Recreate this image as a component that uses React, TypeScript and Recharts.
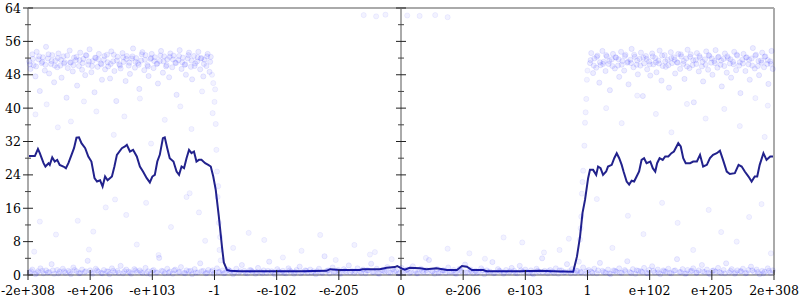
import React from "react";
import { ComposedChart, XAxis, YAxis, Line, Scatter, ReferenceLine, ReferenceDot } from "recharts";

const xTicks = [-6, -5, -4, -3, -2, -1, 0, 1, 2, 3, 4, 5, 6];
const xLabels = ["-2e+308", "-e+206", "-e+103", "-1", "-e-102", "-e-205", "0", "e-206", "e-103", "1", "e+102", "e+205", "2e+308"];
const yTicks = [0, 4, 8, 12, 16, 20, 24, 28, 32, 36, 40, 44, 48, 52, 56, 60, 64];
const yLabelTicks = [0, 8, 16, 24, 32, 40, 48, 56, 64];

const lineX = [
  -6.0, -5.89, -5.84, -5.81, -5.78, -5.75, -5.72, -5.67, -5.65, -5.61, -5.57, -5.53, -5.49, -5.43, -5.39, -5.35, -5.3, -5.26, -5.22, -5.18,
  -5.14, -5.08, -5.03, -4.98, -4.93, -4.89, -4.84, -4.8, -4.76, -4.72, -4.65, -4.61, -4.57, -4.49, -4.44, -4.41, -4.36, -4.31, -4.25, -4.2,
  -4.15, -4.09, -4.04, -4.0, -3.96, -3.92, -3.88, -3.83, -3.8, -3.76, -3.72, -3.66, -3.61, -3.57, -3.53, -3.49, -3.45, -3.41, -3.37, -3.33,
  -3.29, -3.25, -3.21, -3.15, -3.1, -3.06, -3.02, -2.98, -2.93, -2.88, -2.85, -2.8, -2.75, -2.6, -2.3, -2.0, -1.6, -1.2, -1.14, -0.98,
  -0.66, -0.62, -0.34, -0.23, -0.1, -0.06, 0.01, 0.06, 0.14, 0.31, 0.41, 0.57, 0.74, 0.9, 0.98, 1.06, 1.14, 1.32, 1.38, 1.91,
  2.24, 2.45, 2.77, 2.83, 2.88, 2.92, 2.96, 3.01, 3.04, 3.09, 3.14, 3.17, 3.21, 3.25, 3.3, 3.33, 3.39, 3.43, 3.47, 3.51,
  3.55, 3.58, 3.63, 3.67, 3.71, 3.75, 3.79, 3.83, 3.87, 3.91, 3.95, 4.01, 4.05, 4.09, 4.12, 4.16, 4.21, 4.25, 4.3, 4.35,
  4.39, 4.46, 4.5, 4.54, 4.58, 4.65, 4.7, 4.76, 4.81, 4.86, 4.92, 4.97, 5.02, 5.08, 5.13, 5.18, 5.24, 5.29, 5.37, 5.43,
  5.48, 5.53, 5.59, 5.64, 5.69, 5.73, 5.77, 5.83, 5.88, 5.94, 6.0,
];
const lineY = [
  28.5, 28.5, 30.2, 29.2, 28.0, 26.8, 26.0, 26.8, 26.4, 28.2, 27.2, 27.6, 26.4, 26.0, 25.6, 26.8, 28.8, 30.4, 32.9, 33.0,
  31.6, 30.4, 28.4, 27.2, 23.2, 22.4, 22.7, 21.2, 23.6, 22.7, 23.6, 26.0, 28.8, 30.4, 30.8, 31.2, 29.6, 30.0, 28.4, 26.0,
  24.8, 23.2, 22.2, 23.6, 24.0, 27.2, 28.8, 32.8, 33.0, 30.4, 28.0, 27.2, 24.8, 24.0, 26.0, 25.6, 28.0, 30.0, 29.2, 29.6,
  27.2, 27.6, 27.6, 26.8, 26.4, 26.0, 23.6, 20.4, 14.0, 6.8, 3.0, 1.2, 1.0, 0.9, 0.9, 0.9, 0.9, 1.0, 1.4, 1.2,
  1.2, 1.4, 1.4, 1.75, 1.9, 2.15, 1.6, 1.3, 1.75, 1.6, 1.4, 1.6, 1.2, 1.2, 2.15, 2.0, 1.2, 1.2, 0.9, 0.9,
  1.0, 0.9, 0.8, 4.4, 9.2, 14.9, 18.0, 23.2, 25.2, 25.2, 24.0, 26.0, 25.6, 24.0, 24.8, 26.0, 26.4, 28.0, 29.2, 28.0,
  26.4, 24.8, 22.4, 21.7, 22.6, 22.4, 23.6, 24.8, 27.6, 28.0, 26.8, 27.2, 25.6, 24.8, 26.8, 28.0, 27.6, 28.4, 28.4, 29.2,
  29.6, 31.6, 30.8, 28.0, 26.8, 26.8, 27.2, 27.2, 28.8, 26.0, 26.4, 28.0, 28.8, 29.2, 29.8, 27.6, 24.8, 24.2, 24.4, 26.4,
  26.0, 24.8, 23.6, 22.4, 23.6, 23.6, 26.4, 29.2, 27.6, 28.4, 28.4,
];

const bottomBand = [
  [-5.97,0.6],[-5.93,1.3],[-5.88,0.2],[-5.84,0.9],[-5.8,1.6],[-5.75,0.4],[-5.71,1.1],[-5.66,0.7],[-5.62,2.6],[-5.58,0.3],
  [-5.53,1.2],[-5.49,0.8],[-5.44,1.5],[-5.4,0.5],[-5.35,1.0],[-5.31,0.2],[-5.27,1.8],[-5.22,0.9],[-5.18,0.4],[-5.13,1.3],
  [-5.09,0.7],[-5.04,3.4],[-5.0,1.1],[-4.96,0.3],[-4.91,1.5],[-4.87,0.8],[-4.82,0.5],[-4.78,1.2],[-4.73,0.9],[-4.69,0.2],
  [-4.65,1.6],[-4.6,0.6],[-4.56,1.0],[-4.51,2.2],[-4.47,0.4],[-4.42,1.3],[-4.38,0.8],[-4.34,0.3],[-4.29,1.4],[-4.25,0.7],
  [-4.2,1.1],[-4.16,0.5],[-4.11,1.7],[-4.07,0.9],[-4.03,0.2],[-3.98,1.2],[-3.94,0.6],[-3.89,4.1],[-3.85,1.0],[-3.8,0.4],
  [-3.76,1.5],[-3.72,0.8],[-3.67,0.3],[-3.63,1.3],[-3.58,0.7],[-3.54,1.9],[-3.49,0.5],[-3.45,1.1],[-3.41,0.9],[-3.36,0.2],
  [-3.32,1.4],[-3.27,0.6],[-3.23,2.8],[-3.18,1.0],[-3.14,0.4],[-3.1,1.2],[-3.05,0.8],[-3.01,0.3],[-2.96,1.6],[-2.92,0.7],
  [-2.87,1.1],[-2.83,0.5],[-2.78,1.3],[-2.74,0.9],[-2.7,0.2],[-2.65,1.5],[-2.61,0.6],[-2.56,2.4],[-2.52,1.0],[-2.47,0.4],
  [-2.43,1.2],[-2.39,0.8],[-2.34,0.3],[-2.3,1.7],[-2.25,0.7],[-2.21,1.1],[-2.16,0.5],[-2.12,3.2],[-2.08,0.9],[-2.03,0.2],
  [-1.99,1.4],[-1.94,0.6],[-1.9,1.0],[-1.85,0.4],[-1.81,1.6],[-1.77,0.8],[-1.72,0.3],[-1.68,1.2],[-1.63,2.0],[-1.59,0.7],
  [-1.54,1.1],[-1.5,0.5],[-1.46,1.3],[-1.41,0.9],[-1.37,0.2],[-1.32,1.5],[-1.28,0.6],[-1.23,4.5],[-1.19,1.0],[-1.15,0.4],
  [-1.1,1.8],[-1.06,0.8],[-1.01,1.2],[-0.97,0.3],[-0.92,1.4],[-0.88,0.7],[-0.84,2.3],[-0.79,1.0],[-0.75,0.5],[-0.7,1.6],
  [-0.66,0.9],[-0.61,1.3],[-0.57,0.4],[-0.53,1.1],[-0.48,2.7],[-0.44,0.7],[-0.39,1.5],[-0.35,0.3],[-0.3,1.2],[-0.26,0.8],
  [-0.22,1.9],[-0.17,0.6],[-0.13,1.4],[-0.08,1.0],[-0.04,0.4],[0.01,1.7],[0.05,0.8],[0.1,1.3],[0.14,0.5],[0.19,2.1],
  [0.23,1.0],[0.27,0.4],[0.32,1.5],[0.36,0.7],[0.41,1.2],[0.45,3.6],[0.5,0.9],[0.54,0.3],[0.58,1.4],[0.63,0.6],
  [0.67,1.1],[0.72,0.5],[0.76,1.8],[0.81,0.8],[0.85,1.2],[0.89,0.3],[0.94,1.5],[0.98,0.9],[1.03,2.5],[1.07,0.6],
  [1.12,1.3],[1.16,0.4],[1.2,1.0],[1.25,0.7],[1.29,1.6],[1.34,0.2],[1.38,1.1],[1.43,0.8],[1.47,3.1],[1.51,0.5],
  [1.56,1.4],[1.6,0.9],[1.65,0.3],[1.69,1.2],[1.74,0.6],[1.78,1.7],[1.82,1.0],[1.87,0.4],[1.91,2.2],[1.96,0.8],
  [2.0,1.3],[2.05,0.5],[2.09,1.1],[2.13,0.2],[2.18,1.5],[2.22,0.7],[2.27,4.0],[2.31,1.0],[2.36,0.4],[2.4,1.2],
  [2.44,0.8],[2.49,1.6],[2.53,0.3],[2.58,1.1],[2.62,0.6],[2.67,2.6],[2.71,0.9],[2.75,1.4],[2.8,0.5],[2.84,1.0],
  [2.89,0.7],[2.93,1.8],[2.98,0.3],[3.02,1.2],[3.06,0.8],[3.11,1.5],[3.15,0.4],[3.2,2.9],[3.24,1.0],[3.29,0.6],
  [3.33,1.3],[3.37,0.2],[3.42,1.1],[3.46,0.8],[3.51,1.6],[3.55,0.5],[3.6,1.2],[3.64,3.3],[3.68,0.7],[3.73,1.4],
  [3.77,0.3],[3.82,1.0],[3.86,0.9],[3.91,1.7],[3.95,0.5],[3.99,1.2],[4.04,2.1],[4.08,0.6],[4.13,1.3],[4.17,0.2],
  [4.22,1.1],[4.26,0.8],[4.3,1.5],[4.35,0.4],[4.39,1.0],[4.44,3.8],[4.48,0.7],[4.53,1.4],[4.57,0.3],[4.61,1.2],
  [4.66,0.9],[4.7,1.6],[4.75,0.5],[4.79,1.1],[4.84,2.4],[4.88,0.7],[4.92,1.3],[4.97,0.2],[5.01,1.0],[5.06,0.8],
  [5.1,1.7],[5.15,0.5],[5.19,1.2],[5.23,2.8],[5.28,0.6],[5.32,1.4],[5.37,0.3],[5.41,1.1],[5.46,0.9],[5.5,1.5],
  [5.54,0.4],[5.59,1.2],[5.63,2.0],[5.68,0.7],[5.72,1.3],[5.77,0.2],[5.81,1.0],[5.85,0.8],[5.9,1.6],[5.94,0.5],[5.98,1.1],
];

const bottomBandCore = [
  [-5.95,0.9],[-5.86,0.5],[-5.77,1.0],[-5.68,0.6],[-5.6,1.1],[-5.51,0.4],[-5.42,0.9],[-5.33,0.7],[-5.25,1.2],[-5.16,0.5],
  [-5.07,0.9],[-4.98,0.6],[-4.89,1.1],[-4.8,0.4],[-4.71,0.8],[-4.63,1.0],[-4.54,0.5],[-4.45,0.9],[-4.36,0.6],[-4.27,1.1],
  [-4.18,0.7],[-4.09,0.4],[-4.0,1.0],[-3.92,0.6],[-3.83,0.9],[-3.74,0.5],[-3.65,1.1],[-3.56,0.7],[-3.47,0.4],[-3.38,1.0],
  [-3.3,0.6],[-3.21,0.9],[-3.12,0.5],[-3.03,1.1],[-2.94,0.7],[-2.85,0.4],[-2.76,1.0],[-2.68,0.6],[-2.59,0.9],[-2.5,0.5],
  [-2.41,1.1],[-2.32,0.7],[-2.23,0.4],[-2.14,1.0],[-2.06,0.6],[-1.97,0.9],[-1.88,0.5],[-1.79,1.1],[-1.7,0.7],[-1.61,0.4],
  [-1.52,1.0],[-1.44,0.6],[-1.35,0.9],[-1.26,0.5],[-1.17,1.1],[-1.08,0.7],[-0.99,0.4],[-0.9,1.0],[-0.82,0.6],[-0.73,0.9],
  [-0.64,0.5],[-0.55,1.1],[-0.46,0.7],[-0.37,0.4],[-0.28,1.0],[-0.2,0.6],[-0.11,0.9],[-0.02,0.5],[0.07,1.1],[0.16,0.7],
  [0.25,0.4],[0.34,1.0],[0.42,0.6],[0.51,0.9],[0.6,0.5],[0.69,1.1],[0.78,0.7],[0.87,0.4],[0.96,1.0],[1.04,0.6],
  [1.13,0.9],[1.22,0.5],[1.31,1.1],[1.4,0.7],[1.49,0.4],[1.58,1.0],[1.66,0.6],[1.75,0.9],[1.84,0.5],[1.93,1.1],
  [2.02,0.7],[2.11,0.4],[2.2,1.0],[2.28,0.6],[2.37,0.9],[2.46,0.5],[2.55,1.1],[2.64,0.7],[2.73,0.4],[2.82,1.0],
  [2.9,0.6],[2.99,0.9],[3.08,0.5],[3.17,1.1],[3.26,0.7],[3.35,0.4],[3.44,1.0],[3.52,0.6],[3.61,0.9],[3.7,0.5],
  [3.79,1.1],[3.88,0.7],[3.97,0.4],[4.06,1.0],[4.14,0.6],[4.23,0.9],[4.32,0.5],[4.41,1.1],[4.5,0.7],[4.59,0.4],
  [4.68,1.0],[4.76,0.6],[4.85,0.9],[4.94,0.5],[5.03,1.1],[5.12,0.7],[5.21,0.4],[5.3,1.0],[5.38,0.6],[5.47,0.9],
  [5.56,0.5],[5.65,1.1],[5.74,0.7],[5.83,0.4],[5.92,1.0],
];

const upperLeft = [
  [-5.98,51.2],[-5.96,49.4],[-5.93,52.9],[-5.91,50.3],[-5.88,47.6],[-5.86,53.5],[-5.83,51.7],[-5.81,44.1],[-5.78,50.8],[-5.76,52.2],
  [-5.73,49.0],[-5.71,54.7],[-5.68,51.9],[-5.66,48.3],[-5.63,50.6],[-5.61,52.7],[-5.58,46.2],[-5.56,51.4],[-5.53,49.8],[-5.51,53.1],
  [-5.48,50.2],[-5.46,47.3],[-5.43,52.4],[-5.41,51.0],[-5.38,42.5],[-5.36,49.6],[-5.33,53.8],[-5.31,50.9],[-5.28,48.8],[-5.26,52.1],
  [-5.23,51.5],[-5.21,45.4],[-5.18,50.1],[-5.16,53.3],[-5.13,49.2],[-5.11,51.8],[-5.08,47.9],[-5.06,52.6],[-5.03,50.4],[-5.01,54.1],
  [-4.98,48.6],[-4.96,51.3],[-4.93,43.8],[-4.91,52.0],[-4.88,49.9],[-4.86,53.0],[-4.83,50.7],[-4.81,46.8],[-4.78,51.6],[-4.76,49.3],
  [-4.73,52.8],[-4.71,50.0],[-4.68,47.1],[-4.66,53.6],[-4.63,51.2],[-4.61,48.9],[-4.58,41.7],[-4.56,52.3],[-4.53,50.5],[-4.51,49.5],
  [-4.48,53.2],[-4.46,51.1],[-4.43,46.5],[-4.41,52.5],[-4.38,50.2],[-4.36,48.2],[-4.33,51.9],[-4.31,54.3],[-4.28,49.7],[-4.26,52.0],
  [-4.23,50.8],[-4.21,44.6],[-4.18,51.4],[-4.16,53.4],[-4.13,49.1],[-4.11,52.7],[-4.08,50.3],[-4.06,47.7],[-4.03,51.8],[-4.01,53.0],
  [-3.98,49.6],[-3.96,52.2],[-3.93,50.6],[-3.91,45.9],[-3.88,51.3],[-3.86,53.7],[-3.83,48.5],[-3.81,52.4],[-3.78,50.0],[-3.76,51.7],
  [-3.73,47.4],[-3.71,53.1],[-3.68,49.8],[-3.66,52.6],[-3.63,50.9],[-3.61,43.2],[-3.58,51.5],[-3.56,53.9],[-3.53,49.4],[-3.51,52.1],
  [-3.48,50.4],[-3.46,48.0],[-3.43,51.9],[-3.41,53.3],[-3.38,49.9],[-3.36,46.9],[-3.33,52.5],[-3.31,50.7],[-3.28,51.2],[-3.26,53.5],
  [-3.23,49.3],[-3.21,52.0],[-3.18,47.6],[-3.16,51.6],[-3.13,50.1],[-3.11,53.0],[-3.08,48.7],[-3.06,52.3],
  [-5.97,50.5],[-5.92,51.8],[-5.87,50.0],[-5.82,52.4],[-5.77,51.1],[-5.72,50.4],[-5.67,52.9],[-5.62,51.3],[-5.57,50.2],[-5.52,52.0],
  [-5.47,51.6],[-5.42,50.7],[-5.37,52.6],[-5.32,51.0],[-5.27,50.3],[-5.22,52.3],[-5.17,51.5],[-5.12,50.8],[-5.07,52.7],[-5.02,51.2],
  [-4.97,50.1],[-4.92,52.1],[-4.87,51.7],[-4.82,50.5],[-4.77,52.5],[-4.72,51.0],[-4.67,50.6],[-4.62,52.8],[-4.57,51.4],[-4.52,50.2],
  [-4.47,52.2],[-4.42,51.8],[-4.37,50.9],[-4.32,52.4],[-4.27,51.1],[-4.22,50.4],[-4.17,52.9],[-4.12,51.6],[-4.07,50.0],[-4.02,52.0],
  [-3.97,51.3],[-3.92,50.7],[-3.87,52.6],[-3.82,51.2],[-3.77,50.3],[-3.72,52.3],[-3.67,51.7],[-3.62,50.8],[-3.57,52.5],[-3.52,51.0],
  [-3.47,50.5],[-3.42,52.7],[-3.37,51.4],[-3.32,50.1],[-3.27,52.2],[-3.22,51.9],[-3.17,50.6],[-3.12,52.4],[-3.07,51.1],
];

const upperRight = [
  [3.04,50.8],[3.06,53.2],[3.09,48.4],[3.11,51.9],[3.14,49.7],[3.16,52.6],[3.19,46.1],[3.21,50.3],[3.24,53.7],[3.26,51.1],
  [3.29,48.9],[3.31,52.4],[3.34,50.6],[3.36,44.3],[3.39,51.7],[3.41,53.0],[3.44,49.5],[3.46,52.1],[3.49,50.2],[3.51,47.5],
  [3.54,53.5],[3.56,51.3],[3.59,49.0],[3.61,52.8],[3.64,50.9],[3.66,45.7],[3.69,51.6],[3.71,54.2],[3.74,49.8],[3.76,52.3],
  [3.79,50.4],[3.81,48.1],[3.84,51.8],[3.86,53.3],[3.89,42.9],[3.91,50.7],[3.94,52.5],[3.96,49.3],[3.99,51.2],[4.01,47.8],
  [4.04,53.1],[4.06,50.5],[4.09,52.0],[4.11,48.6],[4.14,51.4],[4.16,53.8],[4.19,46.6],[4.21,50.1],[4.24,52.7],[4.26,49.9],
  [4.29,51.6],[4.31,44.9],[4.34,53.4],[4.36,50.8],[4.39,52.2],[4.41,48.3],[4.44,51.0],[4.46,53.0],[4.49,49.4],[4.51,52.4],
  [4.54,50.6],[4.56,47.0],[4.59,51.9],[4.61,54.0],[4.64,49.6],[4.66,52.9],[4.69,50.3],[4.71,41.4],[4.74,51.5],[4.76,53.2],
  [4.79,48.8],[4.81,52.1],[4.84,50.0],[4.86,46.4],[4.89,51.7],[4.91,53.6],[4.94,49.2],[4.96,52.5],[4.99,50.9],[5.01,48.0],
  [5.04,51.3],[5.06,53.9],[5.09,49.7],[5.11,52.3],[5.14,50.4],[5.16,45.2],[5.19,51.8],[5.21,53.1],[5.24,48.5],[5.26,52.0],
  [5.29,50.7],[5.31,47.3],[5.34,51.1],[5.36,53.5],[5.39,49.1],[5.41,52.6],[5.44,50.2],[5.46,43.6],[5.49,51.6],[5.51,53.0],
  [5.54,48.9],[5.56,52.2],[5.59,50.5],[5.61,46.8],[5.64,51.9],[5.66,54.4],[5.69,49.5],[5.71,52.8],[5.74,50.1],[5.76,47.9],
  [5.79,51.4],[5.81,53.3],[5.84,49.8],[5.86,52.4],[5.89,50.6],[5.91,45.8],[5.94,51.2],[5.96,53.7],[5.98,49.4],
  [3.05,51.5],[3.1,50.2],[3.15,52.3],[3.2,51.0],[3.25,50.6],[3.3,52.7],[3.35,51.3],[3.4,50.1],[3.45,52.2],[3.5,51.7],
  [3.55,50.4],[3.6,52.5],[3.65,51.1],[3.7,50.8],[3.75,52.8],[3.8,51.4],[3.85,50.2],[3.9,52.1],[3.95,51.8],[4.0,50.5],
  [4.05,52.4],[4.1,51.0],[4.15,50.7],[4.2,52.6],[4.25,51.2],[4.3,50.3],[4.35,52.0],[4.4,51.6],[4.45,50.9],[4.5,52.9],
  [4.55,51.3],[4.6,50.0],[4.65,52.3],[4.7,51.5],[4.75,50.6],[4.8,52.5],[4.85,51.1],[4.9,50.4],[4.95,52.7],[5.0,51.9],
  [5.05,50.8],[5.1,52.2],[5.15,51.4],[5.2,50.1],[5.25,52.4],[5.3,51.7],[5.35,50.5],[5.4,52.8],[5.45,51.0],[5.5,50.7],
  [5.55,52.1],[5.6,51.6],[5.65,50.2],[5.7,52.6],[5.75,51.3],[5.8,50.9],[5.85,52.3],[5.9,51.5],[5.95,50.6],
];

const sparsePoints = [
  [-5.88,38.5],[-5.7,40.9],[-5.52,35.4],[-5.31,36.8],[-5.1,41.6],[-4.9,39.2],[-4.62,33.6],[-4.45,38.0],[-4.2,42.3],[-4.02,31.5],
  [-3.8,37.2],[-3.55,40.4],[-3.37,35.0],[-3.2,44.0],
  [-5.81,12.8],[-5.9,5.6],[-5.55,9.7],[-5.2,13.0],[-5.02,6.1],[-4.95,10.4],[-4.75,16.2],[-4.6,18.1],[-4.42,14.4],[-4.25,7.3],
  [-4.1,17.3],[-3.9,4.8],[-3.7,11.5],[-3.45,18.7],[-3.4,19.6],[-3.25,15.0],[-3.15,8.2],
  [-3.02,46.0],[-3.0,41.5],[-2.98,36.2],[-2.97,30.0],[-2.96,24.8],[-2.95,18.7],[-2.93,12.5],[-2.92,6.0],[-2.9,3.5],[-2.99,44.5],
  [-2.94,21.3],[-2.91,9.1],[-3.04,48.0],[-3.03,38.8],
  [-2.7,6.5],[-2.45,10.1],[-2.2,8.4],[-1.9,4.2],[-1.6,5.8],[-1.3,9.6],[-1.05,3.6],[-0.75,7.2],[-0.5,4.9],[-0.42,5.5],[-0.15,3.8],
  [0.4,4.1],[0.75,6.3],[1.1,5.2],[1.35,3.9],[1.65,9.0],[1.95,7.8],[2.3,5.4],[2.55,6.0],[2.7,8.7],
  [2.86,3.2],[2.88,8.5],[2.9,14.0],[2.91,19.5],[2.93,25.0],[2.95,31.0],[2.96,36.5],[2.98,42.2],[2.99,46.8],[3.0,49.0],
  [2.92,22.3],[2.89,11.2],[2.97,39.0],
  [3.3,40.0],[3.55,36.4],[3.8,43.0],[4.1,38.6],[4.35,34.2],[4.6,41.0],[4.9,37.5],[5.2,39.8],[5.45,35.7],[5.7,42.4],[5.9,40.6],[5.85,33.1],
  [3.15,18.2],[3.4,6.5],[3.65,14.2],[3.9,9.8],[4.2,17.3],[4.45,12.5],[4.7,6.0],[4.95,15.6],[5.15,10.3],[5.4,8.0],[5.6,13.9],[5.8,17.0],[5.95,5.2],
  [-0.6,62.3],[-0.4,62.0],[-0.25,62.4],[0.1,62.2],[0.3,62.1],[0.55,62.3],[0.75,61.8],
];

const toPts = (arr: number[][]) => arr.map(([x, y]) => ({ x, y }));
const lineData = lineX.map((x, i) => ({ x, y: lineY[i] }));
const bandData = [...toPts(bottomBand), ...toPts(bottomBandCore), ...toPts(upperLeft), ...toPts(upperRight)];
const sparseData = toPts(sparsePoints);

const FONT = "DejaVu Serif";
const AXIS = "#aaaaaa";

const BandDot = (props: any) => (
  <circle cx={props.cx} cy={props.cy} r={2.6} fill="#0000ff" fillOpacity={0.075} stroke="#0000ff" strokeOpacity={0.1} strokeWidth={0.8} />
);
const SparseDot = (props: any) => (
  <circle cx={props.cx} cy={props.cy} r={2.6} fill="#0000ff" fillOpacity={0.05} stroke="#0000ff" strokeOpacity={0.07} strokeWidth={0.8} />
);

const XTick = (props: any) => {
  const { x, y, payload } = props;
  const idx = xTicks.indexOf(payload.value);
  return (
    <g>
      <line x1={x} x2={x} y1={y - 5} y2={y + 5} stroke="#222" strokeWidth={1} />
      <text x={x} y={y + 20} textAnchor="middle" fontFamily={FONT} fontSize={12.5} fill="#000">{xLabels[idx]}</text>
    </g>
  );
};

const tickMark = (x: number, y: number, v: number) => {
  const major = yLabelTicks.includes(v);
  const h = major ? 5 : 3;
  return <line x1={x - h} x2={x + h} y1={y} y2={y} stroke={major ? "#222" : "#444"} strokeWidth={1} />;
};

const YTickLeft = (props: any) => {
  const { x, y, payload } = props;
  const v = payload.value;
  return (
    <g>
      {tickMark(x, y, v)}
      {yLabelTicks.includes(v) ? (
        <text x={x - 7} y={y + 4.5} textAnchor="end" fontFamily={FONT} fontSize={12.5} fill="#000">{v}</text>
      ) : null}
    </g>
  );
};

const YTickRight = (props: any) => {
  const { x, y, payload } = props;
  return <g>{tickMark(x, y, payload.value)}</g>;
};

export default function App() {
  return (
    <div style={{ position: "absolute", left: 0, top: 0, width: 800, height: 300, background: "#fff" }}>
      <ComposedChart width={800} height={300} margin={{ top: 8, right: 0, bottom: 0, left: 0 }}>
        <XAxis
          type="number"
          dataKey="x"
          domain={[-6, 6]}
          ticks={xTicks}
          interval={0}
          height={25}
          tickSize={0}
          tickMargin={0}
          tickLine={false}
          axisLine={{ stroke: AXIS, strokeWidth: 2 }}
          tick={<XTick />}
        />
        <YAxis
          yAxisId="l"
          type="number"
          dataKey="y"
          domain={[0, 64]}
          ticks={yTicks}
          interval={0}
          width={28}
          tickSize={0}
          tickMargin={0}
          tickLine={false}
          axisLine={{ stroke: AXIS, strokeWidth: 2 }}
          tick={<YTickLeft />}
        />
        <YAxis
          yAxisId="r"
          orientation="right"
          type="number"
          dataKey="y"
          domain={[0, 64]}
          ticks={yTicks}
          interval={0}
          width={26}
          tickSize={0}
          tickMargin={0}
          tickLine={false}
          axisLine={{ stroke: AXIS, strokeWidth: 2 }}
          tick={<YTickRight />}
        />
        <ReferenceLine yAxisId="l" y={64} stroke={AXIS} strokeWidth={2} />
        <ReferenceLine yAxisId="l" x={0} stroke={AXIS} strokeWidth={2} />
        {yTicks.map((v) => (
          <ReferenceDot
            key={v}
            yAxisId="l"
            x={0}
            y={v}
            r={0}
            shape={(p: any) => tickMark(p.cx, p.cy, v)}
          />
        ))}
        <Scatter yAxisId="l" data={bandData} shape={<BandDot />} isAnimationActive={false} />
        <Scatter yAxisId="l" data={sparseData} shape={<SparseDot />} isAnimationActive={false} />
        <Line
          yAxisId="l"
          data={lineData}
          dataKey="y"
          type="linear"
          stroke="#22228c"
          strokeWidth={2}
          dot={false}
          activeDot={false}
          isAnimationActive={false}
        />
      </ComposedChart>
    </div>
  );
}
